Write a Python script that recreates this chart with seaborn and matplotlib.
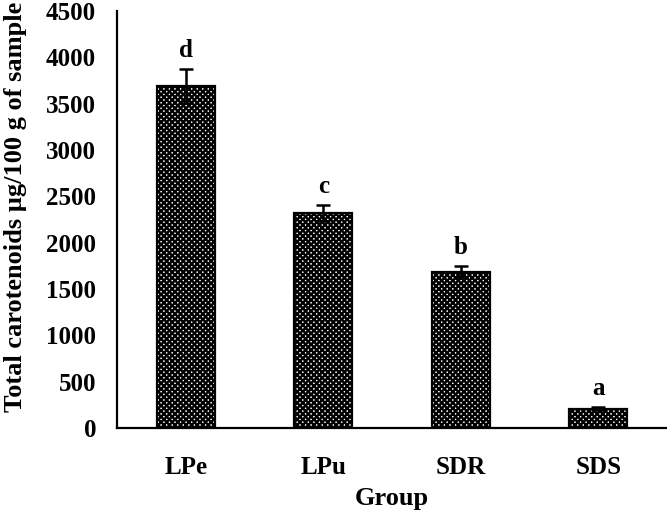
import pandas as pd
import numpy as np
import matplotlib
matplotlib.use("Agg")
import matplotlib.pyplot as plt
import seaborn as sns

groups = ["LPe", "LPu", "SDR", "SDS"]
carotenoids = [3690, 2320, 1685, 210]
sd = [180, 90, 60, 15]
letters = ["d", "c", "b", "a"]

sns.set_style("white")
plt.rcParams["font.family"] = ["Liberation Serif", "DejaVu Serif"]
plt.rcParams["font.weight"] = "bold"
plt.rcParams["text.color"] = "black"
plt.rcParams["axes.labelcolor"] = "black"
plt.rcParams["xtick.color"] = "black"
plt.rcParams["ytick.color"] = "black"
plt.rcParams["hatch.linewidth"] = 1.7

df = pd.DataFrame({"Group": groups, "Total": carotenoids})

fig = plt.figure(figsize=(6.67, 5.12), dpi=100)
ax = fig.add_axes([0.1754, 0.164, 0.8246, 0.8145])

sns.barplot(data=df, x="Group", y="Total", color="white", saturation=1,
            edgecolor="black", linewidth=1.6, hatch="xxxxxx", width=0.42,
            errorbar=None, ax=ax)

ax.errorbar(x=np.arange(len(groups)), y=carotenoids, yerr=sd, fmt="none",
            ecolor="black", elinewidth=1.8, capsize=5, capthick=1.8)

for i in range(len(groups)):
    ax.annotate(letters[i], (i, carotenoids[i] + sd[i]), xytext=(0, 5),
                textcoords="offset points", ha="center", va="bottom",
                fontsize=18, fontweight="bold")

ax.set_ylim(0, 4500)
ax.set_xlim(-0.5, 3.5)
ax.set_yticks(range(0, 4501, 500))
ax.tick_params(axis="both", length=0, labelsize=18)
ax.tick_params(axis="y", pad=15)
ax.tick_params(axis="x", pad=20)
for lab in ax.get_xticklabels() + ax.get_yticklabels():
    lab.set_fontweight("bold")
ax.set_xlabel("Group", fontsize=19, fontweight="bold", labelpad=6)
ax.set_ylabel("Total carotenoids µg/100 g of sample", fontsize=19, fontweight="bold")
ax.yaxis.set_label_coords(-0.163, 0.53)

sns.despine(ax=ax)
for s in ["left", "bottom"]:
    ax.spines[s].set_color("black")
    ax.spines[s].set_linewidth(1.6)

fig.savefig("out.png", dpi=100)
